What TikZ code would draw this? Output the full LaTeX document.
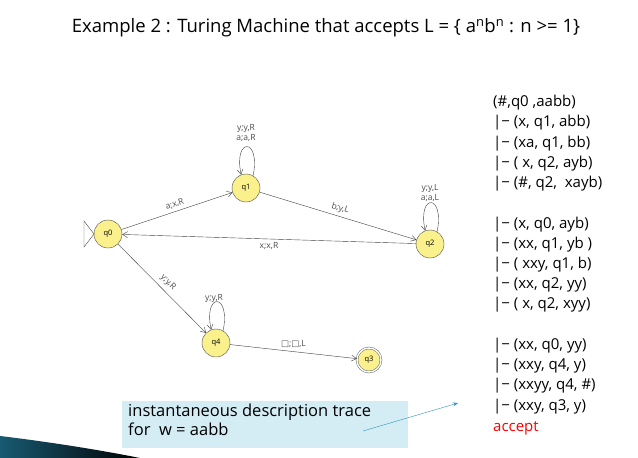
\documentclass[tikz,border=0pt]{standalone}
\usepackage{fontspec}
\setmainfont{Open Sans}
\newfontfamily\symfont{DejaVu Sans}
\usetikzlibrary{arrows.meta}
\definecolor{stfill}{RGB}{250,240,140}
\definecolor{boxblue}{RGB}{212,236,244}
\definecolor{arrblue}{RGB}{40,150,190}
\tikzset{
 st/.style={circle,draw=black!70,fill=stfill,minimum size=28pt,inner sep=0pt,font=\fontsize{7.5}{8}\selectfont},
 tr/.style={draw=black!75,-{Straight Barb[length=5pt,width=6pt]}},
 tl/.style={font=\fontsize{8.5}{9.5}\selectfont,text=black!70},
 idline/.style={anchor=west,font=\fontsize{15}{17}\selectfont,inner sep=0pt}
}
\begin{document}
\begin{tikzpicture}[x=1pt,y=-1pt]
\useasboundingbox (0,0) rectangle (638,458);
\node[font=\fontsize{18.5}{20}\selectfont] (title) at (326,28) {Example 2 : Turing Machine that accepts L = \{ a\textsuperscript{n}b\textsuperscript{n} : n >= 1\}};
% states
\node[st] (q0) at (108,234) {q0};
\node[st] (q1) at (246,188) {q1};
\node[st] (q2) at (430,244) {q2};
\node[st] (q4) at (216,343) {q4};
\node[st,double,double distance=1.5pt,minimum size=24pt] (q3) at (369,360) {q3};
\draw[black!70] (84,221) -- (84,247) -- (94,234) -- cycle;
% transitions
\draw[tr] (q0) -- node[tl,sloped,above] {a;x,R} (q1);
\draw[tr] (q1) -- node[tl,sloped,above] {b;y,L} (q2);
\draw[tr] (q2) -- node[tl,below] {x;x,R} (q0);
\draw[tr] (q0) -- node[tl,sloped,above=1pt] {y;y,R} (q4);
\draw[tr] (q4) -- node[tl,above] {{\symfont □};{\symfont □},L} (q3);
\draw[tr] (q1.60) .. controls +(8,-38) and +(-8,-38) .. (q1.110);
\draw[tr] (q2.60) .. controls +(8,-38) and +(-8,-38) .. (q2.110);
\draw[tr] (q4.60) .. controls +(8,-38) and +(-8,-38) .. (q4.110);
\node[tl,align=center] (l1) at (246,133) {y;y,R\\a;a,R};
\node[tl,align=center] (l2) at (430,193) {y;y,L\\a;a,L};
\node[tl] (l4) at (214,298) {y;y,R};
% trace
\node[idline] (t1) at (493,103) {(\#,q0 ,aabb)};
\node[idline] (t2) at (493,123) {|− (x, q1, abb)};
\node[idline] (t3) at (493,144) {|− (xa, q1, bb)};
\node[idline] (t4) at (493,164) {|− ( x, q2, ayb)};
\node[idline] (t5) at (493,184) {|− (\#, q2,\ \ xayb)};
\node[idline] (t6) at (493,225) {|− (x, q0, ayb)};
\node[idline] (t7) at (493,245) {|− (xx, q1, yb )};
\node[idline] (t8) at (493,265) {|− ( xxy, q1, b)};
\node[idline] (t9) at (493,285) {|− (xx, q2, yy)};
\node[idline] (t10) at (493,305) {|− ( x, q2, xyy)};
\node[idline] (t11) at (493,346) {|− (xx, q0, yy)};
\node[idline] (t12) at (493,366) {|− (xxy, q4, y)};
\node[idline] (t13) at (493,386) {|− (xxyy, q4, \#)};
\node[idline] (t14) at (493,407) {|− (xxy, q3, y)};
\node[idline,text=red] (t15) at (493,428) {accept};
% note
\fill[boxblue] (122,401) rectangle (408,448);
\node[anchor=north west,align=left,font=\fontsize{16.5}{19}\selectfont,inner sep=0pt] (note) at (128,404) {instantaneous description trace\\for\ \ w = aabb};
\coordinate (na) at (363,431);
\coordinate (nb) at (458,403);
\draw[arrblue,-{Stealth[length=5pt]}] (na) -- (nb);
% swoosh
\shade[left color=arrblue!60!black,right color=black] (0,436) .. controls (50,442) and (100,450) .. (140,458) -- (0,458) -- cycle;
\end{tikzpicture}
\end{document}
